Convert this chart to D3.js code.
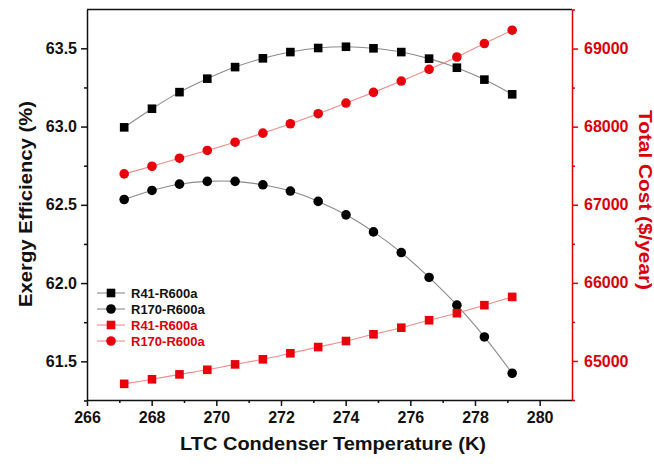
<!DOCTYPE html>
<html>
<head>
<meta charset="utf-8">
<script src="https://cdn.jsdelivr.net/npm/d3@7"></script>
<style>
  html, body { margin: 0; padding: 0; background: #fff; }
  svg { display: block; font-family: "Liberation Sans", Arial, sans-serif; }
</style>
</head>
<body>
<svg id="chart" width="654" height="466"></svg>
<script>
// LTC condenser temperature (K)
const temperature = [267.15, 268.01, 268.86, 269.72, 270.58, 271.44, 272.29, 273.15,
                     274.01, 274.86, 275.72, 276.58, 277.44, 278.29, 279.15];

// Exergy efficiency (%)
const exergyR41 = [62.995, 63.114, 63.220, 63.306, 63.380, 63.436, 63.476, 63.502,
                   63.510, 63.500, 63.476, 63.434, 63.376, 63.300, 63.206];
const exergyR170 = [62.534, 62.592, 62.632, 62.650, 62.650, 62.628, 62.588, 62.522,
                    62.436, 62.327, 62.195, 62.036, 61.859, 61.656, 61.424];

// Total cost ($/year)
const costR41 = [64707, 64765, 64828, 64887, 64956, 65021, 65098, 65178,
                 65255, 65341, 65426, 65521, 65611, 65714, 65820];
const costR170 = [67395, 67493, 67596, 67695, 67801, 67917, 68037, 68166,
                  68302, 68439, 68584, 68734, 68892, 69064, 69235];

const xTicks = [266, 268, 270, 272, 274, 276, 278, 280];
const leftTicks = [61.5, 62.0, 62.5, 63.0, 63.5];
const rightTicks = [65000, 66000, 67000, 68000, 69000];

const seriesNames = ["R41-R600a", "R170-R600a", "R41-R600a", "R170-R600a"];

const RED = "#e8000b";
const RED_TEXT = "#d9000a";

const svg = d3.select("#chart");
const L = 87, R = 572, T = 9.5, B = 400;

const x = d3.scaleLinear().domain([266, 281]).range([L, R]);
const yL = d3.scaleLinear().domain([61.253, 63.748]).range([B, T]);
const yR = d3.scaleLinear().domain([64500, 69500]).range([B, T]);

// top frame line
svg.append("line").attr("x1", L).attr("x2", R).attr("y1", T).attr("y2", T)
  .attr("stroke", "#111").attr("stroke-width", 1.5);

function styleAxis(g, color, fontSize) {
  g.select(".domain").attr("stroke", color).attr("stroke-width", 1.5);
  g.selectAll(".tick line").attr("stroke", color).attr("stroke-width", 1.5);
  g.selectAll(".tick text").attr("fill", color)
    .style("font-size", fontSize + "px").style("font-weight", "bold");
}

// minor ticks
const xMinor = d3.range(267, 281, 2);
const leftMinor = [61.25, 61.75, 62.25, 62.75, 63.25, 63.75].filter(v => v <= 63.748);
const rightMinor = [64500, 65500, 66500, 67500, 68500, 69500].filter(v => v <= 69500);

// bottom axis
const gx = svg.append("g").attr("transform", `translate(0,${B})`)
  .call(d3.axisBottom(x).tickValues(xTicks).tickFormat(d3.format("d")).tickSize(6).tickSizeOuter(0).tickPadding(6));
styleAxis(gx, "#111", 16);
svg.append("g").attr("transform", `translate(0,${B})`)
  .call(d3.axisBottom(x).tickValues(xMinor).tickFormat("").tickSize(3).tickSizeOuter(0))
  .call(g => { g.select(".domain").remove(); g.selectAll("line").attr("stroke", "#111").attr("stroke-width", 1.5); });

// left axis
const gl = svg.append("g").attr("transform", `translate(${L},0)`)
  .call(d3.axisLeft(yL).tickValues(leftTicks).tickFormat(d3.format(".1f")).tickSize(6).tickSizeOuter(0).tickPadding(4));
styleAxis(gl, "#111", 16);
svg.append("g").attr("transform", `translate(${L},0)`)
  .call(d3.axisLeft(yL).tickValues(leftMinor).tickFormat("").tickSize(3).tickSizeOuter(0))
  .call(g => { g.select(".domain").remove(); g.selectAll("line").attr("stroke", "#111").attr("stroke-width", 1.5); });

// right axis
const gr = svg.append("g").attr("transform", `translate(${R},0)`)
  .call(d3.axisRight(yR).tickValues(rightTicks).tickFormat(d3.format("d")).tickSize(6).tickSizeOuter(0).tickPadding(6));
styleAxis(gr, RED_TEXT, 16);
svg.append("g").attr("transform", `translate(${R},0)`)
  .call(d3.axisRight(yR).tickValues(rightMinor).tickFormat("").tickSize(3).tickSizeOuter(0))
  .call(g => { g.select(".domain").remove(); g.selectAll("line").attr("stroke", RED_TEXT).attr("stroke-width", 1.5); });

// axis titles
svg.append("text").attr("x", 333).attr("y", 450).attr("text-anchor", "middle")
  .style("font-size", "18px").style("font-weight", "bold").attr("fill", "#111")
  .attr("textLength", 306).attr("lengthAdjust", "spacingAndGlyphs")
  .text("LTC Condenser Temperature (K)");
svg.append("text").attr("transform", `translate(32,204) rotate(-90)`)
  .attr("text-anchor", "middle")
  .style("font-size", "18px").style("font-weight", "bold").attr("fill", "#111")
  .attr("textLength", 206).attr("lengthAdjust", "spacingAndGlyphs")
  .text("Exergy Efficiency (%)");
svg.append("text").attr("transform", `translate(639,200) rotate(90)`)
  .attr("text-anchor", "middle")
  .style("font-size", "18px").style("font-weight", "bold").attr("fill", RED_TEXT)
  .attr("textLength", 180).attr("lengthAdjust", "spacingAndGlyphs")
  .text("Total Cost ($/year)");

// series
const series = [
  { values: exergyR41, y: yL, color: "#000", line: "#8a8a8a", shape: "square" },
  { values: exergyR170, y: yL, color: "#000", line: "#8a8a8a", shape: "circle" },
  { values: costR41, y: yR, color: RED, line: "#f08c8c", shape: "square" },
  { values: costR170, y: yR, color: RED, line: "#f08c8c", shape: "circle" }
];

function drawMarker(g, shape, cx, cy, color) {
  if (shape === "square") {
    g.append("rect").attr("x", cx - 4.3).attr("y", cy - 4.3)
      .attr("width", 8.6).attr("height", 8.6).attr("fill", color);
  } else {
    g.append("circle").attr("cx", cx).attr("cy", cy).attr("r", 4.8).attr("fill", color);
  }
}

series.forEach(s => {
  const pts = temperature.map((t, i) => [x(t), s.y(s.values[i])]);
  svg.append("path").attr("d", d3.line().curve(d3.curveCatmullRom)(pts))
    .attr("fill", "none").attr("stroke", s.line).attr("stroke-width", 1.1);
  const g = svg.append("g");
  pts.forEach(p => drawMarker(g, s.shape, p[0], p[1], s.color));
});

// legend
const legend = svg.append("g");
const legendRows = [293, 309, 325, 341];
series.forEach((s, i) => {
  const yy = legendRows[i];
  legend.append("line").attr("x1", 97).attr("x2", 125).attr("y1", yy).attr("y2", yy)
    .attr("stroke", s.line).attr("stroke-width", 1.1);
  drawMarker(legend, s.shape, 111, yy, s.color);
  legend.append("text").attr("x", 131).attr("y", yy + 4.5)
    .style("font-size", "13px").style("font-weight", "bold")
    .attr("fill", s.color === RED ? RED_TEXT : "#111")
    .text(seriesNames[i]);
});
</script>
</body>
</html>
